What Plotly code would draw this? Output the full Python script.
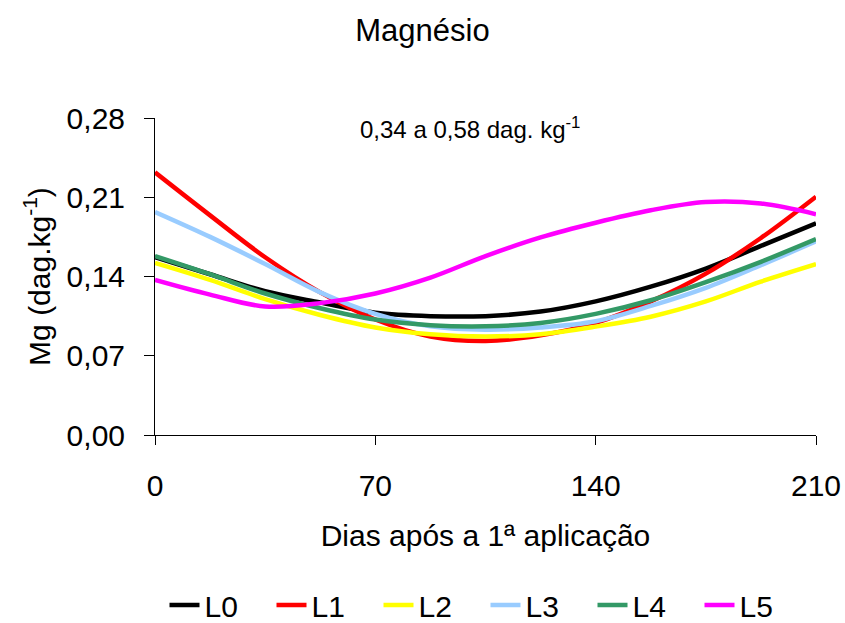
import plotly.graph_objects as go

days = [0, 17.5, 35, 52.5, 70, 87.5, 105, 122.5, 140, 157.5, 175, 192.5, 210]
L0 = [0.157, 0.142, 0.127, 0.117, 0.108, 0.105, 0.105, 0.109, 0.118, 0.131, 0.147, 0.167, 0.187]
L1 = [0.232, 0.194, 0.157, 0.126, 0.102, 0.087, 0.083, 0.088, 0.099, 0.118, 0.1425, 0.174, 0.2105]
L2 = [0.152, 0.137, 0.120, 0.106, 0.095, 0.089, 0.087, 0.089, 0.0957, 0.1045, 0.118, 0.1355, 0.151]
L3 = [0.197, 0.175, 0.151, 0.126, 0.107, 0.096, 0.093, 0.095, 0.1005, 0.114, 0.130, 0.150, 0.171]
L4 = [0.158, 0.142, 0.125, 0.112, 0.102, 0.097, 0.096, 0.099, 0.107, 0.119, 0.135, 0.153, 0.173]
L5 = [0.137, 0.124, 0.1135, 0.1165, 0.125, 0.139, 0.158, 0.1745, 0.1875, 0.1985, 0.2058, 0.2045, 0.195]

names = ["L0", "L1", "L2", "L3", "L4", "L5"]
series = [L0, L1, L2, L3, L4, L5]
colors = ["#000000", "#FF0000", "#FFFF00", "#99CCFF", "#339966", "#FF00FF"]

y_ticks = [0.0, 0.07, 0.14, 0.21, 0.28]
x_ticks = [0, 70, 140, 210]

FONT = "Liberation Sans, Arial, sans-serif"
FS = 30

fig = go.Figure()
for n, s, c in zip(names, series, colors):
    fig.add_trace(go.Scatter(x=days, y=s, name=n, mode="lines",
                             line=dict(color=c, width=4.5, shape="spline", smoothing=1.0)))

fig.update_layout(
    width=845, height=623,
    margin=dict(l=155, r=29, t=118, b=188, autoexpand=False),
    paper_bgcolor="white", plot_bgcolor="white",
    separators=",.",
    font=dict(family=FONT, color="black", size=FS),
    title=dict(text="Magnésio", x=0.5, xanchor="center", y=0.952, yanchor="middle",
               font=dict(size=31, family=FONT, color="black")),
    showlegend=True,
    legend=dict(orientation="h", x=0.5, xanchor="center", y=-0.536, yanchor="middle",
                font=dict(size=FS, family=FONT), itemwidth=30, tracegroupgap=0,
                entrywidth=62, entrywidthmode="pixels",
                bgcolor="rgba(0,0,0,0)"),
    xaxis=dict(range=[0, 210], tickvals=x_ticks, ticktext=[str(v) for v in x_ticks],
               showgrid=False, zeroline=False, showline=True, linecolor="black", linewidth=1,
               ticks="outside", ticklen=9, tickcolor="black", ticklabelstandoff=15,
               tickfont=dict(size=FS, family=FONT),
               title=dict(text="Dias após a 1ª aplicação", font=dict(size=FS, family=FONT), standoff=23)),
    yaxis=dict(range=[0, 0.28], tickvals=y_ticks, tickformat=".2f",
               showgrid=False, zeroline=False, showline=True, linecolor="black", linewidth=1,
               ticks="outside", ticklen=10, tickcolor="black", ticklabelstandoff=13,
               tickfont=dict(size=FS, family=FONT),
               title=dict(text="Mg (dag.kg<sup>-1</sup>)", font=dict(size=FS, family=FONT), standoff=7)),
    annotations=[dict(text="0,34 a 0,58 dag. kg<sup>-1</sup>", xref="paper", yref="paper",
                      x=(470 - 155) / 661, y=(435 - 128) / 317, xanchor="center", yanchor="middle",
                      showarrow=False, font=dict(size=24, family=FONT, color="black"))],
)

fig.write_html("out.html")
